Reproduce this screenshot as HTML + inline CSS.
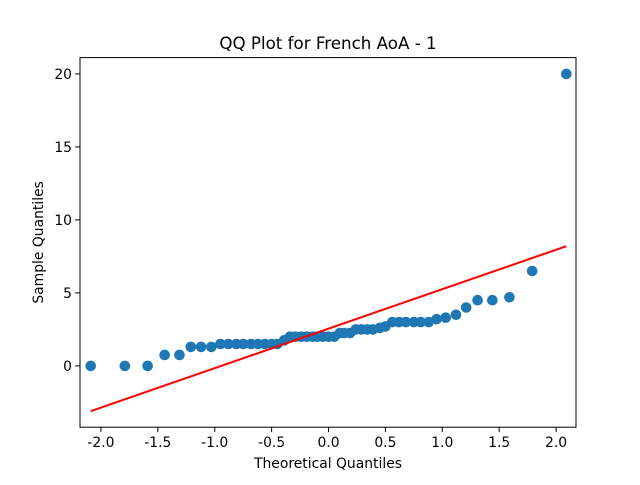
<!DOCTYPE html>
<html><head><meta charset="utf-8"><style>
body{margin:0;background:#fff}
svg text{font-family:"DejaVu Sans","Liberation Sans",sans-serif;fill:#000}
</style></head><body>
<svg id="c" width="640" height="480"></svg>
<script>
const theoretical=[-2.09,-1.79,-1.59,-1.44,-1.31,-1.21,-1.12,-1.03,-0.95,-0.88,-0.81,-0.75,-0.68,-0.62,-0.56,-0.50,-0.45,-0.39,-0.34,-0.29,-0.24,-0.19,-0.14,-0.10,-0.05,0,0.05,0.10,0.14,0.19,0.24,0.29,0.34,0.39,0.45,0.50,0.56,0.62,0.68,0.75,0.81,0.88,0.95,1.03,1.12,1.21,1.31,1.44,1.59,1.79,2.09];
const sample=[0,0,0,0.75,0.75,1.3,1.3,1.3,1.5,1.5,1.5,1.5,1.5,1.5,1.5,1.5,1.5,1.75,2,2,2,2,2,2,2,2,2,2.25,2.25,2.25,2.5,2.5,2.5,2.5,2.6,2.7,3,3,3,3,3,3,3.2,3.3,3.5,4,4.5,4.5,4.7,6.5,20];
const lineX=[-2.09,2.09];
const lineY=[-3.1,8.2];
const xTicks=[-2.0,-1.5,-1.0,-0.5,0.0,0.5,1.0,1.5,2.0];
const yTicks=[0,5,10,15,20];
const L=80,R=576,T=57.6,B=427.2;
const X0=-2.184,X1=2.175,Y0=-4.2,Y1=21.12;
const sx=v=>L+(v-X0)/(X1-X0)*(R-L);
const sy=v=>B-(v-Y0)/(Y1-Y0)*(B-T);
const svg=document.getElementById('c');
const NS='http://www.w3.org/2000/svg';
function mk(t,a){const e=document.createElementNS(NS,t);for(const k in a)e.setAttribute(k,a[k]);svg.appendChild(e);return e;}
theoretical.forEach((x,i)=>{
 const p=mk('circle',{cx:sx(x),cy:sy(sample[i]),r:5.3,fill:'#1f77b4'});
 
 
});
const ln=mk('line',{x1:sx(lineX[0]),y1:sy(lineY[0]),x2:sx(lineX[1]),y2:sy(lineY[1]),stroke:'#ff0000','stroke-width':2});


const fr=mk('rect',{x:L,y:T,width:R-L,height:B-T,fill:'none',stroke:'#000','stroke-width':1});


xTicks.forEach(v=>{
 mk('line',{x1:sx(v),x2:sx(v),y1:B,y2:B+4.9,stroke:'#000','stroke-width':1});
 const t=mk('text',{x:sx(v),y:B+20,'text-anchor':'middle','font-size':13.9});
 t.textContent=v.toFixed(1);
 
 
});
yTicks.forEach(v=>{
 mk('line',{x1:L-4.9,x2:L,y1:sy(v),y2:sy(v),stroke:'#000','stroke-width':1});
 const t=mk('text',{x:L-8,y:sy(v)+5,'text-anchor':'end','font-size':13.9});
 t.textContent=v;
 
 
});
const ti=mk('text',{x:(L+R)/2,y:49,'text-anchor':'middle','font-size':16.7});
ti.textContent='QQ Plot for French AoA - 1';


const xl=mk('text',{x:(L+R)/2,y:468,'text-anchor':'middle','font-size':13.9});
xl.textContent='Theoretical Quantiles';


const yl=mk('text',{x:43,y:(T+B)/2,'text-anchor':'middle','font-size':13.9,transform:`rotate(-90 43 ${(T+B)/2})`});
yl.textContent='Sample Quantiles';


</script>
</body></html>
